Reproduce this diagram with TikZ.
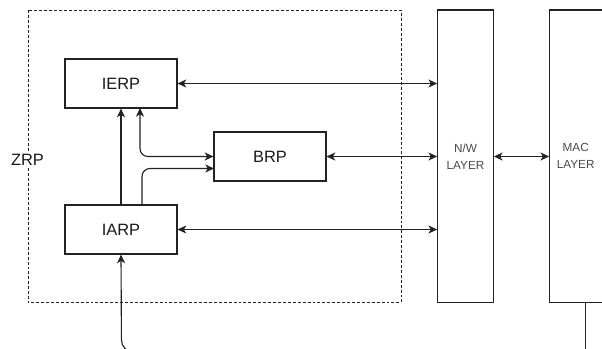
\documentclass[tikz,border=0pt]{standalone}
\usepackage{fontspec}
\setmainfont{Liberation Sans}
\usetikzlibrary{arrows.meta}
\definecolor{ln}{HTML}{222222}
\definecolor{tx}{HTML}{1a1a1a}
\begin{document}
\begin{tikzpicture}[x=0.75pt,y=-0.75pt,
  tip/.tip={Stealth[length=6.5pt,width=6pt,inset=1.8pt]},
  conn/.style={draw=ln,line width=0.85pt},
  blockbox/.style={draw=ln,line width=0.85pt,fill=white,minimum width=84pt,minimum height=36.75pt,inner sep=0pt,font=\fontsize{12.3}{14}\selectfont,text=tx},
  layerbox/.style={draw=ln,line width=0.85pt,minimum height=219.5pt,inner sep=0pt,align=center,font=\fontsize{8.8}{12.8}\selectfont,text=tx!80},
  zone/.style={draw=ln,line width=0.7pt,dash pattern=on 2.2pt off 1.5pt}
]
\useasboundingbox (0,0) rectangle (602,349);
% dashed ZRP zone
\draw[zone] (28,10) rectangle (401,302.7);
\node[fill=white,inner sep=1pt,font=\fontsize{12.3}{14}\selectfont,text=tx] (zrp) at (27.5,160) {ZRP};
% blocks
\node[blockbox] (ierp) at (121,83.5) {IERP};
\node[blockbox] (brp) at (270,156.5) {BRP};
\node[blockbox] (iarp) at (121,229.5) {IARP};
\node[layerbox,minimum width=41.7pt] (nw) at (465.5,156.35) {N/W\\LAYER};
\node[layerbox,minimum width=45pt,text width=41.7pt] (mac) at (579.7,156.35) {\hspace*{-6pt}MAC\\\hspace*{-6pt}LAYER};
% connectors
\draw[conn,{tip}-{tip}] (ierp.east) -- (ierp.east -| nw.west);
\draw[conn,{tip}-{tip}] (brp.east) -- (brp.east -| nw.west);
\draw[conn,{tip}-{tip}] (nw.east |- brp.east) -- (mac.west |- brp.east);
\draw[conn,{tip}-{tip}] (iarp.east) -- (iarp.east -| nw.west);
\draw[conn,-{tip}] (iarp.north) -- (ierp.south);
\coordinate (a1) at (140,108);
\coordinate (a2) at (140,156.5);
\draw[conn,{tip}-{tip},rounded corners=6pt] (a1) -- (a2) -- (brp.west);
\coordinate (b1) at (142,205);
\coordinate (b2) at (142,168.5);
\coordinate (b3) at (214,168.5);
\draw[conn,-{tip},rounded corners=6pt] (b1) -- (b2) -- (b3);
\coordinate (c0) at (140,352);
\coordinate (c1) at (121.5,352);
\draw[conn,-{tip},rounded corners=9pt] (c0) -- (c1) -- (iarp.south);
\coordinate (m1) at (585.7,302.7);
\coordinate (m2) at (585.7,352);
\draw[conn] (m1) -- (m2);
\end{tikzpicture}
\end{document}
